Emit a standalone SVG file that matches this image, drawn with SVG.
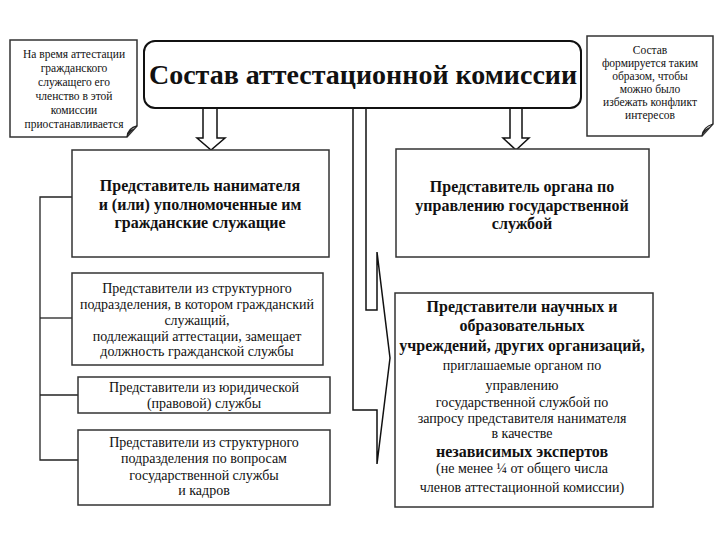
<svg xmlns="http://www.w3.org/2000/svg" width="720" height="540" viewBox="0 0 720 540">
<style>
.box{fill:#fff;stroke:#333;stroke-width:1.5}
.note{fill:#fff;stroke:#333;stroke-width:1.5}
.ln{fill:none;stroke:#222;stroke-width:1.3}
.arr{fill:#fff;stroke:#111;stroke-width:1.5;stroke-linejoin:miter}
text{font-family:'Liberation Serif','DejaVu Serif',serif;fill:#111;text-anchor:middle}
.t{font-size:28px;font-weight:bold}
.n{font-size:11.5px}
.b{font-size:16px;font-weight:bold}
.r{font-size:14px}
</style>
<rect width="720" height="540" fill="#fff"/>
<g id="connectors">
<polyline class="ln" points="72,197 40,197 40,460 78,460"/>
<line class="ln" x1="40" y1="318" x2="72" y2="318"/>
<line class="ln" x1="40" y1="395" x2="78" y2="395"/>
<polygon class="arr" points="203,106 217,106 217,138 225,138 211,150 197,138 203,138"/>
<polygon class="arr" points="510,106 522,106 522,138 529,138 516,150 503,138 510,138"/>
<polygon class="arr" points="353,106 366,106 366,310 377,310 377,252 390,358 377,464 377,410 353,410"/>
</g>
<g id="note-left">
<path class="note" d="M10,40 H137 V126 L127,137 H10 Z"/>
<path class="ln" d="M127,137 Q128,128 137,126 M128,134 Q131,130 134,129"/>
<text class="n" x="74" y="58">На время аттестации</text>
<text class="n" x="74" y="72">гражданского</text>
<text class="n" x="74" y="86">служащего его</text>
<text class="n" x="74" y="100">членство в этой</text>
<text class="n" x="74" y="114">комиссии</text>
<text class="n" x="74" y="128">приостанавливается</text>
</g>
<g id="note-right">
<path class="note" d="M587,36 H713 V124 L702,136 H587 Z"/>
<path class="ln" d="M702,136 Q703,127 713,124 M703,133 Q706,129 709,128"/>
<text class="n" x="650" y="54">Состав</text>
<text class="n" x="650" y="67">формируется таким</text>
<text class="n" x="650" y="80">образом, чтобы</text>
<text class="n" x="650" y="93">можно было</text>
<text class="n" x="650" y="106">избежать конфликт</text>
<text class="n" x="650" y="119">интересов</text>
</g>
<g id="title">
<rect x="144" y="41" width="437" height="67" rx="11" fill="#fff" stroke="#111" stroke-width="2"/>
<text class="t" x="363" y="84">Состав аттестационной комиссии</text>
</g>
<g id="box-employer">
<rect class="box" x="72" y="150" width="257" height="107"/>
<text class="b" x="200" y="191">Представитель нанимателя</text>
<text class="b" x="200" y="210">и (или) уполномоченные им</text>
<text class="b" x="200" y="228">гражданские служащие</text>
</g>
<g id="box-organ">
<rect class="box" x="396" y="149" width="253" height="108"/>
<text class="b" x="522" y="192">Представитель органа по</text>
<text class="b" x="522" y="211">управлению государственной</text>
<text class="b" x="522" y="229">службой</text>
</g>
<g id="box-structural">
<rect class="box" x="72" y="273" width="251" height="92"/>
<text class="r" x="197" y="293">Представители из структурного</text>
<text class="r" x="197" y="309">подразделения, в котором гражданский</text>
<text class="r" x="197" y="325">служащий,</text>
<text class="r" x="197" y="341">подлежащий аттестации, замещает</text>
<text class="r" x="197" y="356">должность гражданской службы</text>
</g>
<g id="box-legal">
<rect class="box" x="78" y="377" width="252" height="36"/>
<text class="r" x="204" y="392">Представители из юридической</text>
<text class="r" x="204" y="408">(правовой) службы</text>
</g>
<g id="box-hr">
<rect class="box" x="78" y="430" width="252" height="75"/>
<text class="r" x="204" y="447">Представители из структурного</text>
<text class="r" x="204" y="463">подразделения по вопросам</text>
<text class="r" x="204" y="480">государственной службы</text>
<text class="r" x="204" y="495">и кадров</text>
</g>
<g id="box-experts">
<rect class="box" x="395" y="293" width="258" height="214"/>
<text class="b" x="522" y="312">Представители научных и</text>
<text class="b" x="522" y="331">образовательных</text>
<text class="b" x="522" y="351">учреждений, других организаций,</text>
<text class="r" x="522" y="370">приглашаемые органом по</text>
<text class="r" x="522" y="390">управлению</text>
<text class="r" x="522" y="407">государственной службой по</text>
<text class="r" x="522" y="423">запросу представителя  нанимателя</text>
<text class="r" x="522" y="438">в качестве</text>
<text class="b" x="522" y="457">независимых экспертов</text>
<text class="r" x="522" y="473">(не менее ¼ от общего числа</text>
<text class="r" x="522" y="492">членов аттестационной комиссии)</text>
</g>
</svg>
